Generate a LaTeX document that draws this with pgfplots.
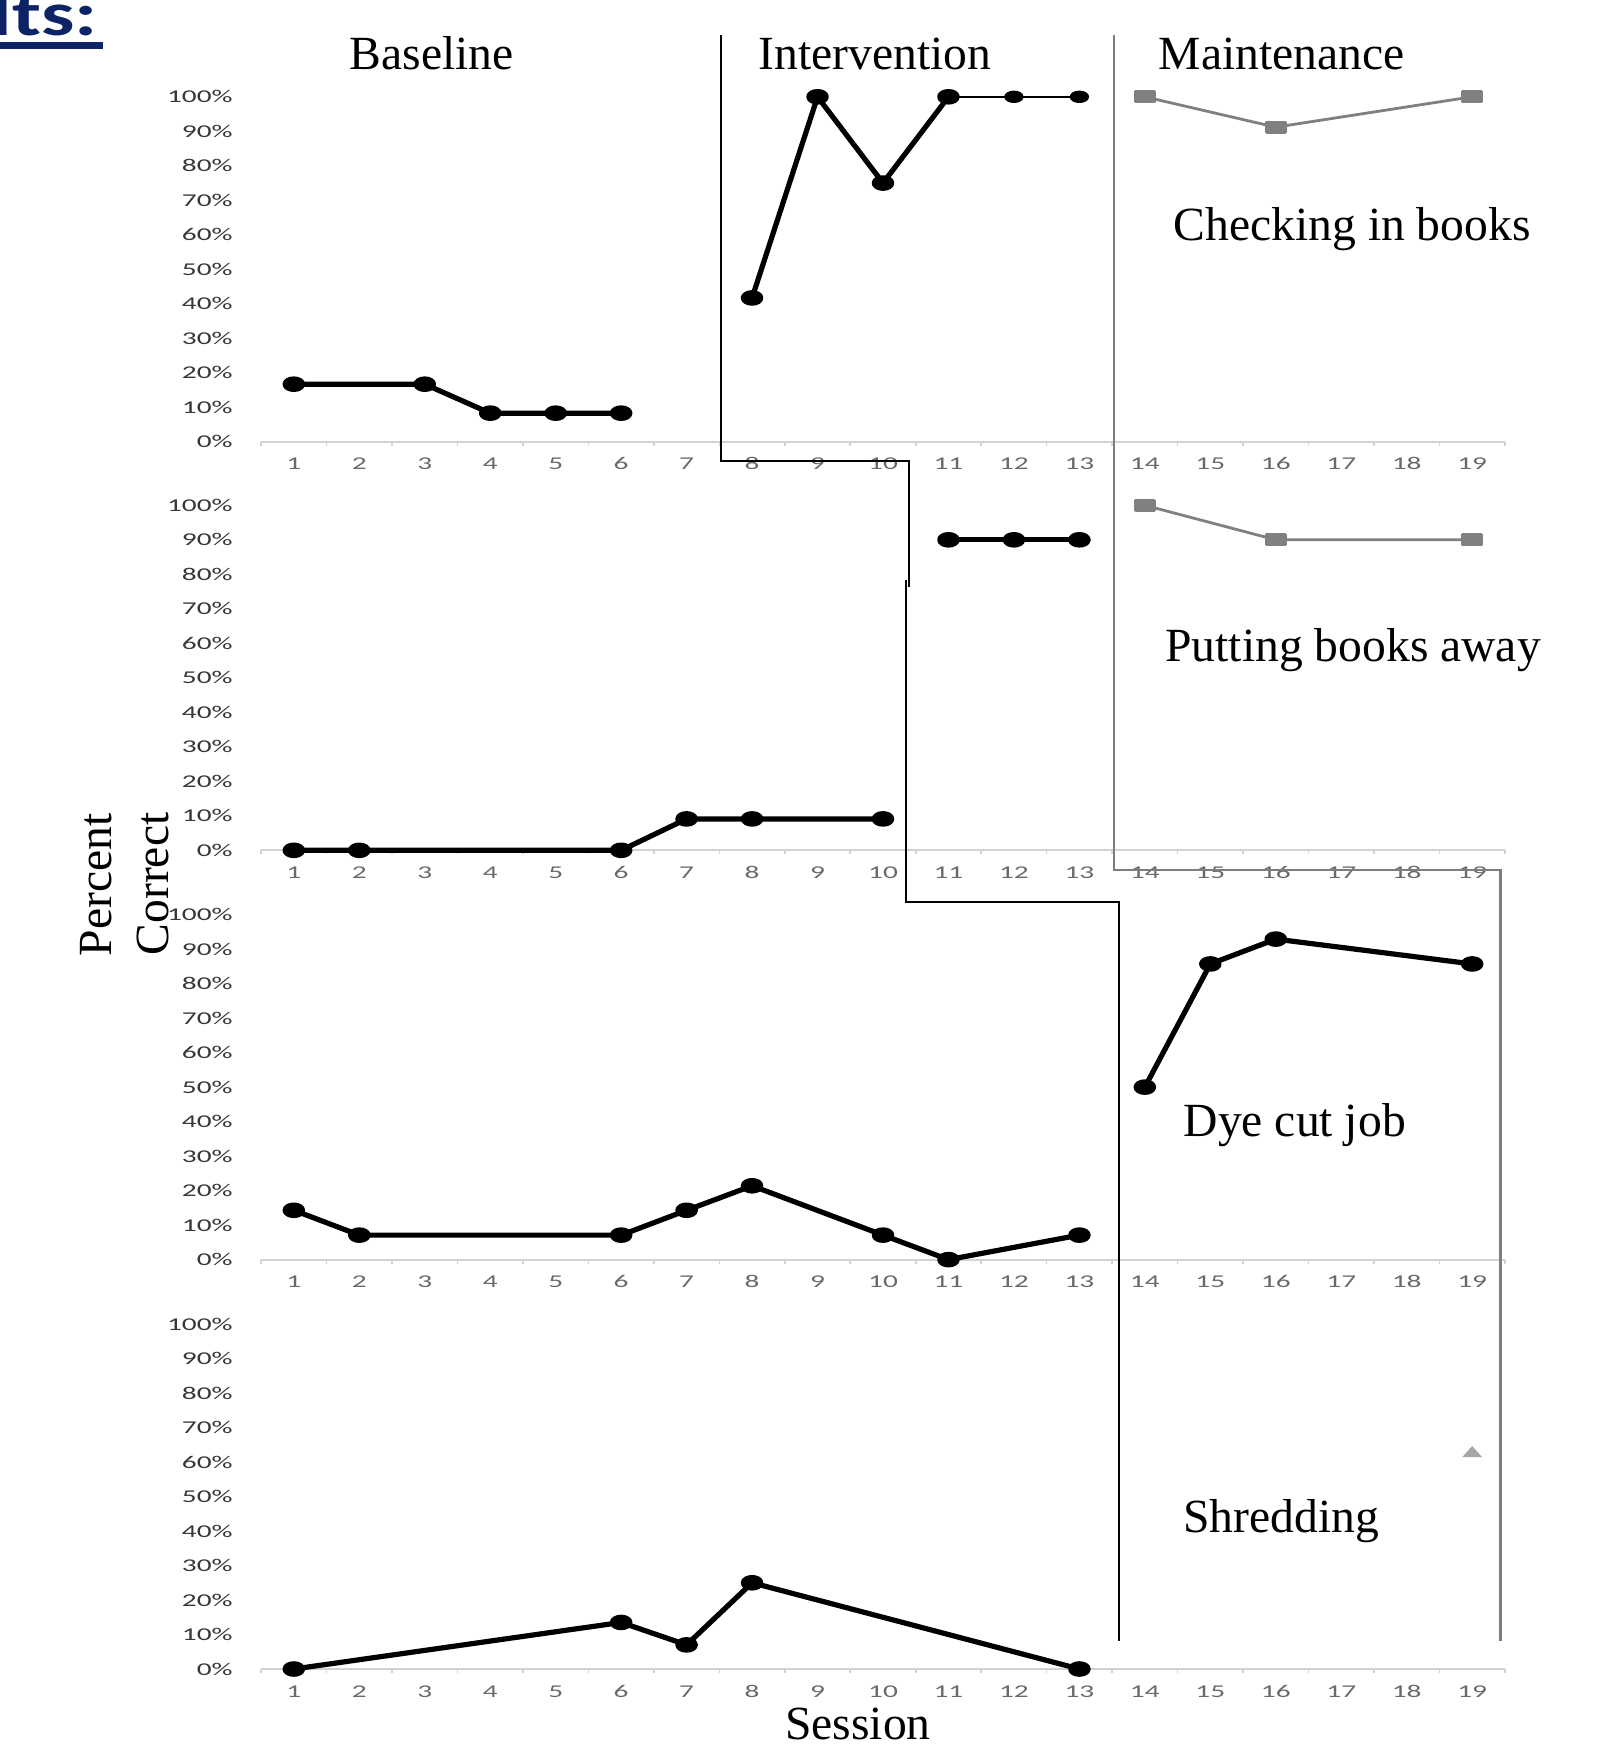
\documentclass[border=0pt]{standalone}
\usepackage{pgfplots}
\pgfplotsset{compat=1.18}
\usepackage{fontspec}
\setmainfont{Liberation Serif}
\newfontfamily\tickfont[FakeStretch=1.63]{Carlito}
\newfontfamily\headfont[FakeStretch=1.35]{Carlito}
\definecolor{navy}{RGB}{12,35,102}
\definecolor{axisgray}{RGB}{210,210,210}
\definecolor{ylab}{RGB}{55,55,55}
\definecolor{xlab}{RGB}{105,105,105}
\definecolor{maint}{RGB}{128,128,128}
\definecolor{tri}{RGB}{166,166,166}
\definecolor{phasegray}{RGB}{125,125,125}

\pgfplotsset{
  panel/.style={
    at={(130.55pt,#1)}, anchor=south west,
    scale only axis, width=621.9pt, height=172.5pt,
    xmin=0.5, xmax=19.5, ymin=0, ymax=100, clip=false,
    axis lines*=left,
    y axis line style={draw=none},
    x axis line style={draw=axisgray, line width=1pt},
    xtick={1,...,19},
    xticklabels={1,2,3,4,5,6,7,8,9,10,11,12,13,14,15,16,17,18,19},
    minor xtick={0.5,1.5,...,19.5},
    ytick={0,10,...,100},
    yticklabels={0\%,10\%,20\%,30\%,40\%,50\%,60\%,70\%,80\%,90\%,100\%},
    tick align=outside,
    major tick length=0pt,
    minor tick length=2pt,
    xtick style={draw=axisgray, line width=0.8pt},
    ytick style={draw=none},
    xticklabel style={font=\tickfont\fontsize{9}{10}\selectfont, text=xlab, anchor=base, inner sep=0pt, yshift=-14pt},
    yticklabel style={font=\tickfont\fontsize{9}{10}\selectfont, text=ylab, anchor=east, inner sep=0pt, xshift=-14pt},
  },
  blk/.style={black, line width=2.6pt, line join=round, mark=*, mark size=2.6pt,
    mark options={solid, xscale=1.67, draw=none, fill=black}},
  gry/.style={color=maint, line width=1.4pt, line join=round, mark=square*, mark size=2.6pt,
    mark options={solid, xscale=1.8, draw=none, fill=maint}},
}

\begin{document}
\begin{tikzpicture}
\useasboundingbox (0,0) rectangle (799.5pt,-872.5pt);

% Panel 1: Checking in books
\begin{axis}[panel=-220.9pt]
\addplot[blk] coordinates {(1,16.7) (3,16.7) (4,8.3) (5,8.3) (6,8.3)};
\addplot[blk] coordinates {(8,41.7) (9,100) (10,75) (11,100)};
\addplot[blk, line width=1pt] coordinates {(11,100) (12,100) (13,100)};
\addplot[gry] coordinates {(14,100) (16,91.2) (19,100)};
\end{axis}

% Panel 2: Putting books away
\begin{axis}[panel=-425.15pt]
\addplot[blk] coordinates {(1,0) (2,0) (6,0) (7,9.1) (8,9.1) (10,9.1)};
\addplot[blk] coordinates {(11,90) (12,90) (13,90)};
\addplot[gry] coordinates {(14,100) (16,90) (19,90)};
\end{axis}

% Panel 3: Dye cut job
\begin{axis}[panel=-629.8pt]
\addplot[blk] coordinates {(1,14.3) (2,7.1) (6,7.1) (7,14.3) (8,21.4) (10,7.1) (11,0) (13,7.1)};
\addplot[blk] coordinates {(14,50) (15,85.7) (16,92.9) (19,85.7)};
\end{axis}

% Panel 4: Shredding
\begin{axis}[panel=-834.5pt]
\addplot[blk] coordinates {(1,0) (6,13.5) (7,7) (8,25) (13,0)};
\addplot[color=tri, only marks, mark=triangle*, mark size=3.4pt, mark options={solid, xscale=1.54, draw=none, fill=tri}] coordinates {(19,62.5)};
\end{axis}

\begin{scope}[x=0.5pt,y=-0.5pt]
% phase change lines
\draw[black, line width=1pt] (721,35) -- (721,461) -- (909.3,461) -- (909.3,586.7);
\draw[black, line width=1pt] (906,580) -- (906,902.3) -- (1119.3,902.3) -- (1119.3,1641.3);
\draw[phasegray, line width=1.1pt] (1114,35) -- (1114,870) -- (1500.5,870) -- (1500.5,1641);

% heading fragment
\node[anchor=base east, inner sep=0pt, text=navy, font=\headfont\bfseries\fontsize{31}{33}\selectfont] at (98,35) {Results:};
\fill[navy] (-5,41.7) rectangle (102.7,49.3);

% phase and panel labels
\begin{scope}[every node/.style={inner sep=0pt, font=\fontsize{23.8}{28}\selectfont}]
\node[anchor=base west] at (349.4,69.3) {Baseline};
\node[anchor=base west] at (758,69.3) {Intervention};
\node[anchor=base west] at (1158.4,69.3) {Maintenance};
\node[anchor=base west] at (1173.3,240) {Checking in books};
\node[anchor=base west] at (1165,661.5) {Putting books away};
\node[anchor=base west] at (1183.3,1136.7) {Dye cut job};
\node[anchor=base west] at (1182.9,1532) {Shredding};
\node[anchor=base] at (858,1739.5) {Session};
\node[anchor=base, rotate=90] at (111,885) {Percent};
\node[anchor=base, rotate=90] at (168,884) {Correct};
\end{scope}
\end{scope}
\end{tikzpicture}
\end{document}
